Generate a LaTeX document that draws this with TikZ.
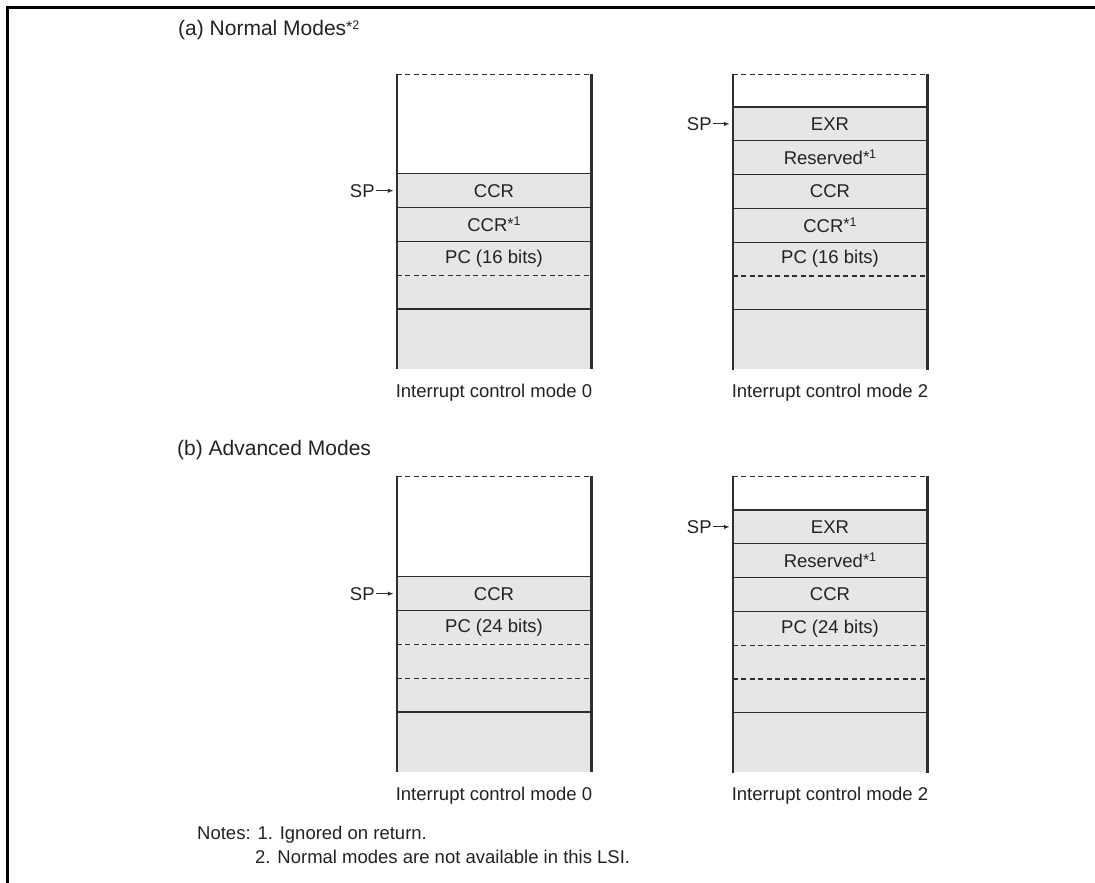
\documentclass[tikz,border=0pt]{standalone}
\usepackage{fontspec}
\setmainfont{Liberation Sans}
\usetikzlibrary{positioning, arrows.meta}

\definecolor{cellgray}{HTML}{E6E6E6}
\definecolor{linegray}{HTML}{2E2E2E}
\definecolor{textgray}{HTML}{222222}

\newcommand{\fnref}[1]{\raisebox{0.6ex}{\fontsize{12.5}{13}\selectfont\raisebox{-0.5ex}{\fontsize{16}{16}\selectfont *}#1}}

\begin{document}
\begin{tikzpicture}[x=1pt, y=-1pt,
        every node/.style={inner sep=0pt, text=textgray, font=\fontsize{18.5}{22}\selectfont},
        title/.style={anchor=base west, font=\fontsize{21}{25}\selectfont},
        note/.style={anchor=base west},
        caption/.style={anchor=base},
        free/.style={rectangle, minimum width=194pt},
        cell/.style={rectangle, fill=cellgray, minimum width=194pt, minimum height=33.4pt},
        lastcell/.style={cell, minimum height=59.4pt},
        rowline/.style={draw=linegray, line width=1.3pt},
        rowdash/.style={rowline, dash pattern=on 5pt off 3.5pt},
        side/.style={draw=linegray, line width=2.6pt},
        ptr/.style={draw=linegray, line width=1.1pt, -{Latex[length=6pt, width=4.5pt]}}
    ]
        \useasboundingbox (0,0) rectangle (1095,883);

        % outer frame
        \draw[line width=3pt, black] (7.5,883) -- (7.5,8) -- (1095,8);

        % titles
        \node[title] (atitle) at (178,36) {(a) Normal Modes\fnref{2}};
        \node[title] (btitle) at (177,455) {(b) Advanced Modes};

        % (a) mode 0
        \node[cell] (a0ccr) at (494,190.7) {CCR};
        \node[free, minimum height=99pt, above=0pt of a0ccr] (a0free) {};
        \node[cell, below=0pt of a0ccr] (a0ccrx) {CCR\fnref{1}};
        \node[cell, below=0pt of a0ccrx] (a0pc) {PC (16 bits)};
        \node[cell, below=0pt of a0pc] (a0e1) {};
        \node[lastcell, below=0pt of a0e1] (a0e2) {};
        \draw[rowdash] (a0free.north west) -- (a0free.north east);
        \draw[rowline] (a0ccr.north west) -- (a0ccr.north east);
        \draw[rowline] (a0ccrx.north west) -- (a0ccrx.north east);
        \draw[rowline] (a0pc.north west) -- (a0pc.north east);
        \draw[rowdash] (a0e1.north west) -- (a0e1.north east);
        \draw[rowline] (a0e2.north west) -- (a0e2.north east);
        \draw[side] (a0free.north west) -- (a0e2.south west);
        \draw[side] (a0free.north east) -- (a0e2.south east);
        \node[left=22pt of a0ccr.west] (a0sp) {SP};
        \draw[ptr] ([xshift=1pt]a0sp.east) -- ([xshift=-3pt]a0ccr.west);
        \node[caption] (a0cap) at (494,397) {Interrupt control mode 0};

        % (a) mode 2
        \node[cell] (a2exr) at (830,123.9) {EXR};
        \node[free, minimum height=32.2pt, above=0pt of a2exr] (a2free) {};
        \node[cell, below=0pt of a2exr] (a2res) {Reserved\fnref{1}};
        \node[cell, below=0pt of a2res] (a2ccr) {CCR};
        \node[cell, below=0pt of a2ccr] (a2ccrx) {CCR\fnref{1}};
        \node[cell, below=0pt of a2ccrx] (a2pc) {PC (16 bits)};
        \node[cell, below=0pt of a2pc] (a2e1) {};
        \node[lastcell, below=0pt of a2e1] (a2e2) {};
        \draw[rowdash] (a2free.north west) -- (a2free.north east);
        \draw[rowline] (a2exr.north west) -- (a2exr.north east);
        \draw[rowline] (a2res.north west) -- (a2res.north east);
        \draw[rowline] (a2ccr.north west) -- (a2ccr.north east);
        \draw[rowline] (a2ccrx.north west) -- (a2ccrx.north east);
        \draw[rowline] (a2pc.north west) -- (a2pc.north east);
        \draw[rowdash] (a2e1.north west) -- (a2e1.north east);
        \draw[rowline] (a2e2.north west) -- (a2e2.north east);
        \draw[side] (a2free.north west) -- (a2e2.south west);
        \draw[side] (a2free.north east) -- (a2e2.south east);
        \node[left=21pt of a2exr.west] (a2sp) {SP};
        \draw[ptr] ([xshift=1pt]a2sp.east) -- ([xshift=-3pt]a2exr.west);
        \node[caption] (a2cap) at (830,397) {Interrupt control mode 2};

        % (b) mode 0
        \node[cell] (b0ccr) at (494,593.7) {CCR};
        \node[free, minimum height=100pt, above=0pt of b0ccr] (b0free) {};
        \node[cell, below=0pt of b0ccr] (b0pc) {PC (24 bits)};
        \node[cell, below=0pt of b0pc] (b0e1) {};
        \node[cell, below=0pt of b0e1] (b0e2) {};
        \node[lastcell, below=0pt of b0e2] (b0e3) {};
        \draw[rowdash] (b0free.north west) -- (b0free.north east);
        \draw[rowline] (b0ccr.north west) -- (b0ccr.north east);
        \draw[rowline] (b0pc.north west) -- (b0pc.north east);
        \draw[rowdash] (b0e1.north west) -- (b0e1.north east);
        \draw[rowdash] (b0e2.north west) -- (b0e2.north east);
        \draw[rowline] (b0e3.north west) -- (b0e3.north east);
        \draw[side] (b0free.north west) -- (b0e3.south west);
        \draw[side] (b0free.north east) -- (b0e3.south east);
        \node[left=22pt of b0ccr.west] (b0sp) {SP};
        \draw[ptr] ([xshift=1pt]b0sp.east) -- ([xshift=-3pt]b0ccr.west);
        \node[caption] (b0cap) at (494,800) {Interrupt control mode 0};

        % (b) mode 2
        \node[cell] (b2exr) at (830,526.9) {EXR};
        \node[free, minimum height=33.2pt, above=0pt of b2exr] (b2free) {};
        \node[cell, below=0pt of b2exr] (b2res) {Reserved\fnref{1}};
        \node[cell, below=0pt of b2res] (b2ccr) {CCR};
        \node[cell, below=0pt of b2ccr] (b2pc) {PC (24 bits)};
        \node[cell, below=0pt of b2pc] (b2e1) {};
        \node[cell, below=0pt of b2e1] (b2e2) {};
        \node[lastcell, below=0pt of b2e2] (b2e3) {};
        \draw[rowdash] (b2free.north west) -- (b2free.north east);
        \draw[rowline] (b2exr.north west) -- (b2exr.north east);
        \draw[rowline] (b2res.north west) -- (b2res.north east);
        \draw[rowline] (b2ccr.north west) -- (b2ccr.north east);
        \draw[rowline] (b2pc.north west) -- (b2pc.north east);
        \draw[rowdash] (b2e1.north west) -- (b2e1.north east);
        \draw[rowdash] (b2e2.north west) -- (b2e2.north east);
        \draw[rowline] (b2e3.north west) -- (b2e3.north east);
        \draw[side] (b2free.north west) -- (b2e3.south west);
        \draw[side] (b2free.north east) -- (b2e3.south east);
        \node[left=21pt of b2exr.west] (b2sp) {SP};
        \draw[ptr] ([xshift=1pt]b2sp.east) -- ([xshift=-3pt]b2exr.west);
        \node[caption] (b2cap) at (830,800) {Interrupt control mode 2};

        % notes
        \node[note] (note1) at (197,839) {Notes: 1. Ignored on return.};
        \node[note] (note2) at (255,863) {2. Normal modes are not available in this LSI.};
    \end{tikzpicture}
\end{document}
